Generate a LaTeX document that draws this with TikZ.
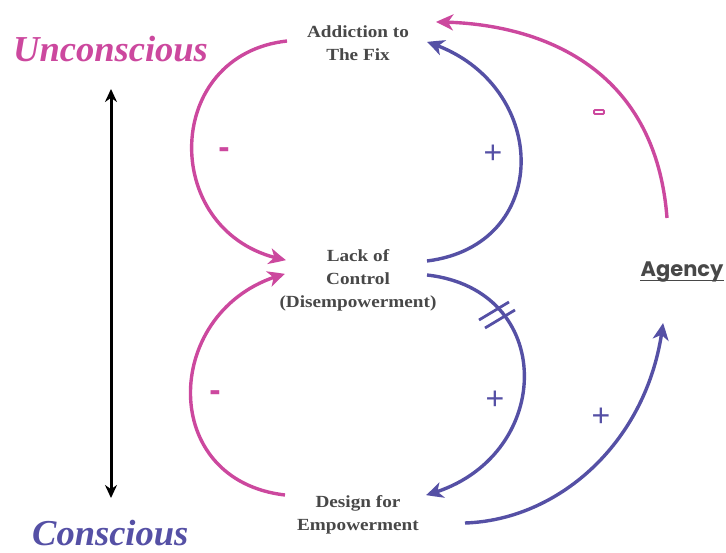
\documentclass[tikz,border=0pt]{standalone}
\usepackage{fontspec}
\setmainfont{Liberation Serif}
\newfontfamily\labelfont[FakeStretch=1.13]{Liberation Serif}
\newfontfamily\signfont{Liberation Sans}
\newfontfamily\agencyfont{Poppins}
\usetikzlibrary{arrows.meta,bending}
\definecolor{loopink}{RGB}{204,72,158}
\definecolor{loopblue}{RGB}{85,80,165}
\definecolor{labelgray}{RGB}{72,72,72}
\tikzset{
  state/.style={align=center,text=labelgray,inner sep=0pt,
    font=\labelfont\bfseries\fontsize{17}{23}\selectfont},
  pinkarc/.style={draw=loopink,line width=3.4pt,
    -{Stealth[length=17pt,width=16pt,inset=5pt,bend]}},
  bluearc/.style={draw=loopblue,line width=3.4pt,
    -{Stealth[length=17pt,width=16pt,inset=5pt,bend]}},
  plussign/.style={text=loopblue,inner sep=0pt,font=\signfont\fontsize{32}{32}\selectfont},
  minussign/.style={text=loopink,inner sep=0pt,font=\signfont\bfseries\fontsize{34}{34}\selectfont},
  levellabel/.style={inner sep=0pt,anchor=base west,
    font=\bfseries\itshape\fontsize{36.5}{40}\selectfont},
}
\begin{document}
\begin{tikzpicture}[x=1pt,y=-1pt]
\useasboundingbox (0,0) rectangle (726,553);

% levels of awareness
\node[levellabel,text=loopink] (uncon) at (13,62) {Unconscious};
\node[levellabel,text=loopblue] (con) at (32,545) {Conscious};
\coordinate (axisTop) at (111,89);
\coordinate (axisBot) at (111,498);
\draw[line width=3pt,{Stealth[length=13pt,width=12pt]}-{Stealth[length=13pt,width=12pt]}]
  (axisTop) -- (axisBot);

% the three states
\node[state] (fix) at (358,43) {Addiction to\\The Fix};
\node[state] (lack) at (358,280) {Lack of\\Control\\(Disempowerment)};
\node[state] (design) at (358,515) {Design for\\Empowerment};
\node[inner sep=0pt,text=labelgray,font=\agencyfont\bfseries\fontsize{21}{21}\selectfont]
  (agency) at (682,272) {Agency};
\draw[labelgray,line width=1.6pt] ([yshift=2pt]agency.south west) -- ([yshift=2pt]agency.south east);

% arc end points beside the labels
\coordinate (fixW) at (287,41);
\coordinate (fixE) at (427,42);
\coordinate (fixNE) at (436,22);
\coordinate (lackWt) at (286,260);
\coordinate (lackWb) at (285,274);
\coordinate (lackEt) at (427,261);
\coordinate (lackEb) at (427,275);
\coordinate (designW) at (285,495);
\coordinate (designE) at (426,495);
\coordinate (designSE) at (465,523);
\coordinate (agencyN) at (667,218);
\coordinate (agencyS) at (663,323);

% upper loop
\draw[pinkarc] (fixW) .. controls (160,55) and (160,238) .. (lackWt);
\draw[bluearc] (lackEt) .. controls (555,245) and (550,80) .. (fixE);

% lower loop
\draw[pinkarc] (designW) .. controls (155,480) and (163,305) .. (lackWb);
\draw[bluearc] (lackEb) .. controls (560,290) and (554,462) .. (designE);

% delay mark on the lower right arc
\draw[loopblue,line width=2.8pt] (479,320) -- (509,302);
\draw[loopblue,line width=2.8pt] (485,328) -- (515,310);

% outer links through agency
\draw[pinkarc] (agencyN) .. controls (655,60) and (530,22) .. (fixNE);
\draw[bluearc] (designSE) .. controls (560,520) and (650,440) .. (agencyS);

% polarity signs
\node[minussign] (m1) at (224,153) {-};
\node[minussign] (m2) at (215,396) {-};
\node[plussign] (p1) at (493,154) {+};
\node[plussign] (p2) at (495,400) {+};
\node[plussign] (p3) at (601,417) {+};
\node[draw=loopink,line width=1.8pt,rounded corners=1pt,minimum width=10pt,
  minimum height=4pt,inner sep=0pt] (m3) at (599,112) {};
\end{tikzpicture}
\end{document}
